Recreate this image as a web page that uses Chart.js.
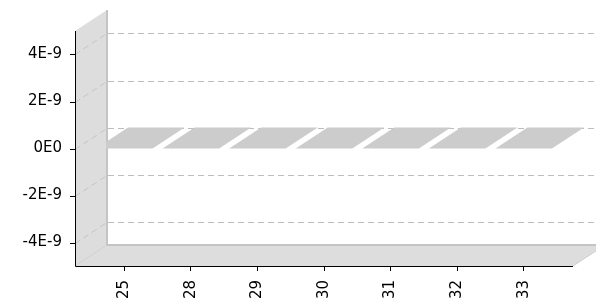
<!DOCTYPE html>
<html>
<head>
<meta charset="utf-8">
<script src="https://cdn.jsdelivr.net/npm/chart.js@4"></script>
<style>
  html, body { margin: 0; padding: 0; background: #fff; }
  #wrap { width: 596px; height: 304px; }
</style>
</head>
<body>
<div id="wrap"><canvas id="chart" width="596" height="304"></canvas></div>
<script>
const categories = ['25', '28', '29', '30', '31', '32', '33'];
const values = [0, 0, 0, 0, 0, 0, 0];
const yTicks = [-4e-9, -2e-9, 0, 2e-9, 4e-9];
const yTickLabels = ['-4E-9', '-2E-9', '0E0', '2E-9', '4E-9'];
const yMin = -5e-9;
const yMax = 5e-9;

// 3d depth of the plot
const DX = 32;
const DY = 21;

const threeD = {
    id: 'threeD',
    beforeDatasetsDraw(chart) {
        const ctx = chart.ctx;
        const a = chart.chartArea;
        const y = chart.scales.y;
        const fl = a.left - DX / 2, fr = a.right + DX / 2;
        ctx.save();
        // left wall + floor
        ctx.fillStyle = '#dddddd';
        ctx.beginPath();
        ctx.moveTo(fl, a.top); ctx.lineTo(fl + DX, a.top - DY);
        ctx.lineTo(fl + DX, a.bottom - DY); ctx.lineTo(fl, a.bottom);
        ctx.closePath(); ctx.fill();
        ctx.beginPath();
        ctx.moveTo(fl, a.bottom); ctx.lineTo(fl + DX, a.bottom - DY);
        ctx.lineTo(fr + DX, a.bottom - DY); ctx.lineTo(fr, a.bottom);
        ctx.closePath(); ctx.fill();
        // wall edges
        ctx.strokeStyle = '#c4c4c4';
        ctx.lineWidth = 2;
        ctx.beginPath();
        ctx.moveTo(fl + DX, a.top - DY); ctx.lineTo(fl + DX, a.bottom - DY);
        ctx.lineTo(fr + DX, a.bottom - DY);
        ctx.stroke();
        ctx.lineWidth = 1;
        ctx.strokeStyle = '#cfcfcf';
        ctx.beginPath();
        ctx.moveTo(fl, a.bottom); ctx.lineTo(fl + DX, a.bottom - DY);
        ctx.moveTo(fr, a.bottom); ctx.lineTo(fr + DX, a.bottom - DY);
        ctx.stroke();
        // grid lines
        ctx.setLineDash([6, 4]);
        yTicks.forEach(t => {
            const py = Math.round(y.getPixelForValue(t)) + 0.5;
            ctx.strokeStyle = '#bdbdbd';
            ctx.beginPath();
            ctx.moveTo(fl + DX + 1, py - DY); ctx.lineTo(chart.width, py - DY);
            ctx.stroke();
            ctx.strokeStyle = '#c4c4c4';
            ctx.beginPath();
            ctx.moveTo(fl, py); ctx.lineTo(fl + DX, py - DY);
            ctx.stroke();
        });
        ctx.setLineDash([]);
        ctx.restore();
    },
    afterDatasetsDraw(chart) {
        const ctx = chart.ctx;
        const a = chart.chartArea;
        const y = chart.scales.y;
        const fl = a.left - DX / 2, fr = a.right + DX / 2;
        const meta = chart.getDatasetMeta(0);
        const y0 = y.getPixelForValue(0);
        ctx.save();
        ctx.beginPath();
        ctx.rect(fl + DX - 1, 0, chart.width, chart.height);
        ctx.clip();
        meta.data.forEach((bar, i) => {
            const yv = y.getPixelForValue(values[i]);
            const x0 = bar.x - bar.width / 2, x1 = bar.x + bar.width / 2;
            const top = Math.min(yv, y0), bot = Math.max(yv, y0);
            // front face
            ctx.fillStyle = '#c0c0c0';
            ctx.fillRect(x0, top, x1 - x0, bot - top);
            // side face
            ctx.fillStyle = '#b0b0b0';
            ctx.beginPath();
            ctx.moveTo(x1, top); ctx.lineTo(x1 + DX, top - DY);
            ctx.lineTo(x1 + DX, bot - DY); ctx.lineTo(x1, bot);
            ctx.closePath(); ctx.fill();
            // top face
            ctx.fillStyle = '#cccccc';
            ctx.beginPath();
            ctx.moveTo(x0, top); ctx.lineTo(x0 + DX, top - DY);
            ctx.lineTo(x1 + DX, top - DY); ctx.lineTo(x1, top);
            ctx.closePath(); ctx.fill();
        });
        ctx.restore();

        // front axes
        ctx.save();
        ctx.strokeStyle = '#000';
        ctx.lineWidth = 1;
        ctx.beginPath();
        ctx.moveTo(fl + 0.5, a.top); ctx.lineTo(fl + 0.5, a.bottom + 0.5);
        ctx.lineTo(fr, a.bottom + 0.5);
        yTicks.forEach(t => {
            const py = Math.round(y.getPixelForValue(t)) + 0.5;
            ctx.moveTo(fl - 5, py); ctx.lineTo(fl + 0.5, py);
        });
        ctx.stroke();
        ctx.restore();
    }
};

new Chart(document.getElementById('chart'), {
    type: 'bar',
    data: {
        labels: categories,
        datasets: [{
            data: values,
            backgroundColor: 'rgba(0,0,0,0)',
            barPercentage: 1,
            categoryPercentage: 0.85
        }]
    },
    options: {
        responsive: false,
        animation: false,
        layout: { padding: { top: 31, right: 39, left: 0, bottom: 0 } },
        plugins: { legend: { display: false }, tooltip: { enabled: false } },
        scales: {
            x: {
                afterFit(s) {
                    s.height = 38;
                    s.paddingLeft = 0; s.paddingRight = 0;
                },
                grid: { display: true, drawOnChartArea: false, drawTicks: true, tickLength: 5, color: '#000', offset: false },
                border: { display: false },
                ticks: {
                    autoSkip: false, minRotation: 90, maxRotation: 90, padding: 9,
                    color: '#000', font: { family: 'DejaVu Sans', size: 15 }
                }
            },
            y: {
                min: yMin,
                max: yMax,
                afterFit(s) {
                    s.width = 91;
                    s.paddingTop = 0; s.paddingBottom = 0;
                },
                afterBuildTicks(s) { s.ticks = yTicks.map(v => ({ value: v })); },
                grid: { display: false, drawTicks: false },
                border: { display: false },
                ticks: {
                    padding: 29,
                    color: '#000', font: { family: 'DejaVu Sans', size: 15 },
                    callback: (v) => yTickLabels[yTicks.indexOf(v)]
                }
            }
        }
    },
    plugins: [threeD]
});
</script>
</body>
</html>
